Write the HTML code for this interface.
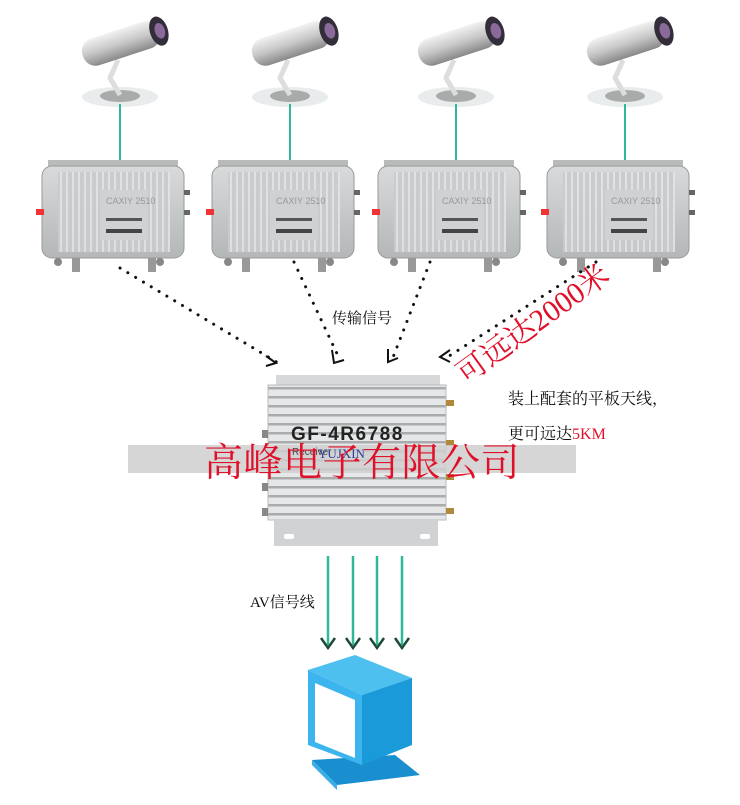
<!DOCTYPE html>
<html><head><meta charset="utf-8"><style>
body{margin:0;background:#fff;}
svg{display:block;font-family:"Liberation Serif","Noto Serif CJK SC",serif;}
</style></head><body>
<svg width="740" height="805" viewBox="0 0 740 805" xmlns="http://www.w3.org/2000/svg">
<defs>
<linearGradient id="cam" x1="0" y1="0" x2="0" y2="1"><stop offset="0" stop-color="#f2f2f2"/><stop offset="0.5" stop-color="#c8c8c8"/><stop offset="1" stop-color="#888"/></linearGradient>
<linearGradient id="box" x1="0" y1="0" x2="0" y2="1"><stop offset="0" stop-color="#d8dadb"/><stop offset="1" stop-color="#b4b7b8"/></linearGradient>
<pattern id="fins" width="6" height="10" patternUnits="userSpaceOnUse"><rect width="6" height="10" fill="#c9cbcc"/><rect x="0" width="2" height="10" fill="#e2e3e4"/></pattern>
<pattern id="rails" width="10" height="9" patternUnits="userSpaceOnUse"><rect width="10" height="9" fill="#e6e7e8"/><rect y="0" width="10" height="2.5" fill="#a9abad"/></pattern>
<g id="unit">
 <ellipse cx="0" cy="97" rx="38" ry="10" fill="#e9ecec"/>
 <ellipse cx="0" cy="96" rx="20" ry="6" fill="#a9abab"/>
 <path d="M-2 60 L-10 78 L0 95" stroke="#ddd" stroke-width="5" fill="none"/>
 <g transform="rotate(-18 5 40)">
  <rect x="-40" y="28" width="80" height="28" rx="13" fill="url(#cam)"/>
  <ellipse cx="40" cy="42" rx="9" ry="15" fill="#332d3a"/>
  <ellipse cx="41" cy="42" rx="5" ry="8" fill="#8a6a9a"/>
 </g>
 <line x1="0" y1="104" x2="0" y2="168" stroke="#2fb89a" stroke-width="2"/>
 <rect x="-72" y="160" width="130" height="8" fill="#b9bbbb"/>
 <rect x="-78" y="166" width="142" height="92" rx="10" fill="url(#box)" stroke="#999"/>
 <rect x="-62" y="172" width="112" height="80" fill="url(#fins)" opacity="0.9"/>
 <rect x="-20" y="190" width="48" height="50" fill="#cfd1d2"/>
 <text x="-14" y="204" font-size="9" fill="#999" font-family="Liberation Sans,sans-serif">CAXIY 2510</text>
 <rect x="-14" y="218" width="36" height="3" fill="#555"/>
 <rect x="-14" y="229" width="36" height="4" fill="#444"/>
 <rect x="-84" y="209" width="8" height="6" fill="#e33"/>
 <rect x="64" y="190" width="6" height="5" fill="#666"/><rect x="64" y="210" width="6" height="5" fill="#666"/>
 <circle cx="-62" cy="262" r="4" fill="#888"/><circle cx="40" cy="262" r="4" fill="#888"/>
 <rect x="-48" y="258" width="8" height="14" fill="#999"/><rect x="28" y="258" width="8" height="14" fill="#999"/>
</g>
</defs>
<use href="#unit" x="120"/>
<use href="#unit" x="290"/>
<use href="#unit" x="456"/>
<use href="#unit" x="625"/>
<g stroke="#111" stroke-width="3" stroke-dasharray="0.1 9" stroke-linecap="round" fill="none">
<line x1="120" y1="268" x2="280" y2="364"/>
<line x1="294" y1="262" x2="340" y2="360"/>
<line x1="430" y1="262" x2="392" y2="360"/>
<line x1="596" y1="262" x2="446" y2="358"/>
</g>
<g stroke="#111" stroke-width="2" fill="none">
<path d="M266 356 L276 363 L266 366"/>
<path d="M332 350 L334 363 L344 360"/>
<path d="M388 349 L388 362 L398 358"/>
<path d="M450 350 L440 357 L450 362"/>
</g>
<text x="332" y="323" font-size="15" fill="#111">传输信号</text>
<text x="0" y="0" font-size="30" fill="#e0102a" transform="translate(466 385) rotate(-36)">可远达2000米</text>
<rect x="276" y="375" width="164" height="12" fill="#d7d8d9"/>
<rect x="268" y="385" width="178" height="135" fill="url(#rails)" stroke="#bbb"/>
<rect x="274" y="520" width="164" height="26" fill="#d0d2d3"/>
<rect x="284" y="534" width="10" height="5" rx="2" fill="#fff"/><rect x="420" y="534" width="10" height="5" rx="2" fill="#fff"/>
<g fill="#b08a3a"><rect x="446" y="400" width="8" height="6"/><rect x="446" y="440" width="8" height="6"/><rect x="446" y="474" width="8" height="6"/><rect x="446" y="508" width="8" height="6"/></g>
<g fill="#888"><rect x="262" y="430" width="6" height="8"/><rect x="262" y="483" width="6" height="8"/><rect x="262" y="508" width="6" height="8"/></g>
<rect x="128" y="445" width="448" height="28" fill="#cfcfcf" opacity="0.85"/>
<text x="291" y="440" font-size="19" font-weight="bold" fill="#222" font-family="Liberation Sans,sans-serif" letter-spacing="1.5">GF-4R6788</text>
<text x="292" y="455" font-size="10" fill="#444" font-family="Liberation Sans,sans-serif">Receiver</text>
<text x="318" y="458" font-size="13" fill="#2c3e9a">YUJXIN</text>
<text x="204" y="476" font-size="39" fill="#e0102a" letter-spacing="0.5">高峰电子有限公司</text>
<text x="508" y="404" font-size="16" fill="#111">装上配套的平板天线，</text>
<text x="508" y="439" font-size="16" fill="#111">更可远达<tspan fill="#e0102a">5KM</tspan></text>
<g stroke="#2fb89a" stroke-width="2.5"><line x1="328" y1="556" x2="328" y2="645"/><line x1="353" y1="556" x2="353" y2="645"/><line x1="377" y1="556" x2="377" y2="645"/><line x1="402" y1="556" x2="402" y2="645"/></g>
<g stroke="#1e4a3a" stroke-width="2.5" fill="none"><path d="M321 638 L328 648 L335 638"/><path d="M346 638 L353 648 L360 638"/><path d="M370 638 L377 648 L384 638"/><path d="M395 638 L402 648 L409 638"/></g>
<text x="250" y="607" font-size="15" fill="#111">AV信号线</text>
<polygon points="312,760 395,755 420,775 337,785" fill="#1a8fd0"/>
<polygon points="312,760 337,785 337,790 312,765" fill="#3aaee6"/>
<polygon points="308,670 355,655 412,678 362,695" fill="#4ec0ef"/>
<polygon points="362,695 412,678 412,745 362,765" fill="#1a9ad8"/>
<polygon points="308,670 362,695 362,765 308,745" fill="#3cb4ee"/>
<polygon points="315,683 355,700 355,758 315,742" fill="#fff"/>
</svg>
</body></html>
